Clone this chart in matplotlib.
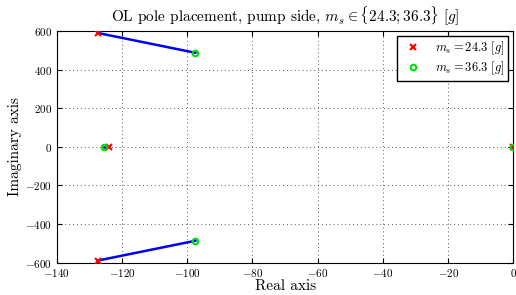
import numpy as np
import matplotlib
matplotlib.use('Agg')
import matplotlib.pyplot as plt

plt.rcParams['font.family'] = 'serif'
plt.rcParams['font.serif'] = ['cmr10']
plt.rcParams['mathtext.fontset'] = 'cm'
plt.rcParams['axes.formatter.use_mathtext'] = True

# poles for m_s = 24.3 g
re_a = [-127.5, -127.5, -124.0, 0.0]
im_a = [590.0, -590.0, 0.0, 0.0]
# poles for m_s = 36.3 g
re_b = [-97.5, -97.5, -125.5, 0.0]
im_b = [487.0, -487.0, 0.0, 0.0]

fig, ax = plt.subplots(figsize=(5.16, 2.95), dpi=100)
for i in range(len(re_a)):
    ax.plot([re_a[i], re_b[i]], [im_a[i], im_b[i]], 'b-', lw=1.8, zorder=2)
ax.plot(re_a, im_a, 'x', color='red', ms=4, mew=1.5, ls='none', label=r'$m_s = 24.3\ [g]$', zorder=3)
ax.plot(re_b, im_b, 'o', color='#00dd00', mfc='none', ms=4, mew=1.5, ls='none', label=r'$m_s = 36.3\ [g]$', zorder=3)

ax.set_xlim(-140, 0)
ax.set_ylim(-600, 600)
ax.set_xticks(np.arange(-140, 1, 20))
ax.set_yticks(np.arange(-600, 601, 200))
ax.grid(True, ls=(0, (1, 3)), color='0.35', lw=0.7)
ax.tick_params(labelsize=8, direction='in', top=True, right=True)
ax.set_xlabel('Real axis', fontsize=11, labelpad=0)
ax.set_ylabel('Imaginary axis', fontsize=11, labelpad=2)
ax.set_title(r'OL pole placement, pump side, $m_s \in \{24.3; 36.3\}\ [g]$', fontsize=11)
leg = ax.legend(loc='upper right', fontsize=9, fancybox=False, edgecolor='k', framealpha=1,
                handletextpad=0.8, borderpad=0.3, labelspacing=0.2, borderaxespad=0.4)
leg.get_frame().set_linewidth(1)

plt.subplots_adjust(left=0.11, right=0.995, top=0.895, bottom=0.11)
plt.savefig('out.png', dpi=100)
